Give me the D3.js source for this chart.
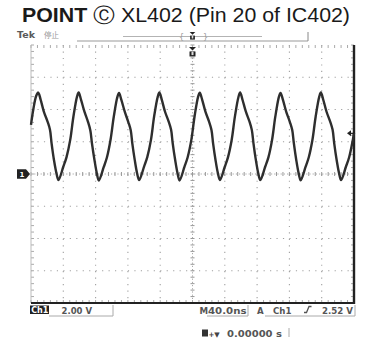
<!DOCTYPE html>
<html>
<head>
<meta charset="utf-8">
<script src="https://cdn.jsdelivr.net/npm/d3@7"></script>
<style>
  html, body { margin: 0; padding: 0; background: #fff; }
  svg { display: block; }
  .scope { font-family: "DejaVu Sans", "Liberation Sans", sans-serif; font-weight: bold; }
</style>
</head>
<body>
<script>
// ---- Display settings (Ch1 at 2.00 V/div, timebase 40.0 ns/div, trigger A Ch1 rising 2.52 V) ----
const timeDivisionsNs = [-200, -160, -120, -80, -40, 0, 40, 80, 120, 160, 200];
const voltDivisions = [-8, -6, -4, -2, 0, 2, 4, 6, 8];
const triggerLevelV = 2.52;

// ---- Captured trace: time (ns, 0 = trigger) and Ch1 voltage (V) ----
const traceTimeNs = [
  -200, -197, -193.5, -191, -188, -184, -179.5, -176.5, -174.5, -171.5, -168.5,
  -166, -160, -156, -151.5, -147.5, -143, -141, -138, -134, -129.5, -126.5, -124.5, -121.5, -118.5,
  -116, -110, -106, -101.5, -97.5, -93, -91, -88, -84, -79.5, -76.5, -74.5, -71.5, -68.5,
  -66, -60, -56, -51.5, -47.5, -43, -41, -38, -34, -29.5, -26.5, -24.5, -21.5, -18.5,
  -16, -10, -6, -1.5, 2.5, 7, 9, 12, 16, 20.5, 23.5, 25.5, 28.5, 31.5,
  34, 40, 44, 48.5, 52.5, 57, 59, 62, 66, 70.5, 73.5, 75.5, 78.5, 81.5,
  84, 90, 94, 98.5, 102.5, 107, 109, 112, 116, 120.5, 123.5, 125.5, 128.5, 131.5,
  134, 140, 144, 148.5, 152.5, 157, 159, 162, 166, 170.5, 173.5, 175.5, 178.5, 181.5,
  184, 190, 194, 198.5, 200
];
const traceVolts = [
  3.05, 4.05, 4.85, 5.05, 4.6, 3.85, 3.25, 2.75, 1.9, 0.85, 0.05,
  -0.38, 0.45, 1.05, 2.1, 3.55, 4.8, 5.05, 4.6, 3.9, 3.25, 2.7, 1.9, 0.9, 0.05,
  -0.4, 0.42, 1.02, 2.12, 3.55, 4.78, 5.02, 4.58, 3.88, 3.22, 2.72, 1.88, 0.86, 0.02,
  -0.38, 0.46, 1.05, 2.1, 3.57, 4.8, 5.05, 4.6, 3.86, 3.25, 2.74, 1.9, 0.88, 0.04,
  -0.4, 0.44, 1.04, 2.1, 3.55, 4.8, 5.04, 4.6, 3.87, 3.25, 2.73, 1.9, 0.87, 0.04,
  -0.37, 0.45, 1.05, 2.11, 3.56, 4.79, 5.05, 4.59, 3.88, 3.26, 2.72, 1.9, 0.86, 0.03,
  -0.38, 0.45, 1.03, 2.1, 3.54, 4.78, 5.03, 4.6, 3.87, 3.24, 2.73, 1.91, 0.87, 0.04,
  -0.39, 0.44, 1.04, 2.11, 3.55, 4.8, 5.05, 4.59, 3.86, 3.25, 2.74, 1.9, 0.87, 0.05,
  -0.38, 0.45, 1.04, 2.1, 2.55
];

const W = 375, H = 340;
const plot = { left: 31, right: 354, top: 45, bottom: 303 };

const svg = d3.select("body").append("svg")
  .attr("width", W).attr("height", H)
  .attr("class", "scope");

const defs = svg.append("defs");
defs.append("filter").attr("id", "soft")
  .append("feGaussianBlur").attr("stdDeviation", 0.45);

const x = d3.scaleLinear().domain([-200, 200]).range([plot.left, plot.right]);
const y = d3.scaleLinear().domain([-8, 8]).range([plot.bottom, plot.top]);

// ---- Title ----
const title = svg.append("text")
  .attr("x", 22).attr("y", 21.5)
  .attr("textLength", 328).attr("lengthAdjust", "spacingAndGlyphs")
  .style("font-family", "'Liberation Sans', Arial, sans-serif")
  .style("font-size", "19.5px").style("font-weight", "normal")
  .attr("fill", "#1a1a1a");
title.append("tspan").style("font-weight", "bold").text("POINT ");
title.append("tspan").text("\u24B8 XL402 (Pin 20 of IC402)");

// ---- Header bar ----
const header = svg.append("g");
header.append("text").attr("x", 17).attr("y", 37.5)
  .style("font-size", "9.5px").attr("fill", "#5a5a5a").text("Tek");
header.append("text").attr("x", 44).attr("y", 37.5)
  .style("font-family", "'Noto Sans CJK JP', sans-serif")
  .style("font-size", "7.5px").style("font-weight", "normal").attr("fill", "#999").text("停止");
header.append("line").attr("x1", 77).attr("x2", 308).attr("y1", 41).attr("y2", 41)
  .attr("stroke", "#999").attr("stroke-width", 1);
header.append("line").attr("x1", 123).attr("x2", 262).attr("y1", 36.5).attr("y2", 36.5)
  .attr("stroke", "#aaa").attr("stroke-width", 0.9);
header.append("line").attr("x1", 308).attr("x2", 308).attr("y1", 32).attr("y2", 41)
  .attr("stroke", "#888").attr("stroke-width", 1);
header.append("text").attr("x", 179).attr("y", 40).style("font-size", "8px")
  .style("font-weight", "normal").attr("fill", "#999").text("{");
header.append("text").attr("x", 203).attr("y", 40).style("font-size", "8px")
  .style("font-weight", "normal").attr("fill", "#999").text("}");

// trigger position glyph (header and top of graticule)
function triggerGlyph(g, cx, top, s) {
  g.append("path")
    .attr("d", `M${cx - 3.5 * s},${top} L${cx + 3.5 * s},${top} L${cx},${top + 3.5 * s} Z`)
    .attr("fill", "#222");
  g.append("path")
    .attr("d", `M${cx - 3 * s},${top + 4.5 * s} h${6 * s} v${5 * s} h${-6 * s} Z`)
    .attr("fill", "#222");
  g.append("rect").attr("x", cx - 1 * s).attr("y", top + 4.5 * s)
    .attr("width", 2 * s).attr("height", 3.6 * s).attr("fill", "#ddd");
}
triggerGlyph(header, x(0), 32, 0.8);

// ---- Graticule ----
const grid = svg.append("g");
const minorT = d3.range(-200, 200.01, 8);
const minorV = d3.range(-8, 8.01, 0.4);

// dotted division lines
grid.selectAll("line.vdiv").data(timeDivisionsNs.filter(t => t !== 0 && t !== -200 && t !== 200))
  .enter().append("line")
  .attr("x1", d => x(d)).attr("x2", d => x(d))
  .attr("y1", plot.top).attr("y2", plot.bottom)
  .attr("stroke", "#a0a0a0").attr("stroke-width", 1.1)
  .attr("stroke-dasharray", "1.2 5.26");
grid.selectAll("line.hdiv").data(voltDivisions.filter(v => v !== 0 && v !== -8 && v !== 8))
  .enter().append("line")
  .attr("x1", plot.left).attr("x2", plot.right)
  .attr("y1", d => y(d)).attr("y2", d => y(d))
  .attr("stroke", "#a0a0a0").attr("stroke-width", 1.1)
  .attr("stroke-dasharray", "1.2 5.26");

// center crosshair with minor ticks
grid.append("line").attr("x1", x(0)).attr("x2", x(0)).attr("y1", plot.top).attr("y2", plot.bottom)
  .attr("stroke", "#aaa").attr("stroke-width", 1).attr("stroke-dasharray", "1.2 2");
grid.append("line").attr("x1", plot.left).attr("x2", plot.right).attr("y1", y(0)).attr("y2", y(0))
  .attr("stroke", "#aaa").attr("stroke-width", 1).attr("stroke-dasharray", "1.2 2");
grid.selectAll("line.ct").data(minorV).enter().append("line")
  .attr("x1", x(0) - 2).attr("x2", x(0) + 2).attr("y1", d => y(d)).attr("y2", d => y(d))
  .attr("stroke", "#999").attr("stroke-width", 1);
grid.selectAll("line.cx").data(minorT).enter().append("line")
  .attr("x1", d => x(d)).attr("x2", d => x(d)).attr("y1", y(0) - 2).attr("y2", y(0) + 2)
  .attr("stroke", "#999").attr("stroke-width", 1);

// edge ticks
grid.selectAll("line.lt").data(minorV).enter().append("line")
  .attr("x1", plot.left).attr("x2", plot.left + 3).attr("y1", d => y(d)).attr("y2", d => y(d))
  .attr("stroke", "#aaa").attr("stroke-width", 1);
grid.selectAll("line.rt").data(minorV).enter().append("line")
  .attr("x1", plot.right - 3).attr("x2", plot.right).attr("y1", d => y(d)).attr("y2", d => y(d))
  .attr("stroke", "#aaa").attr("stroke-width", 1);
grid.selectAll("line.tt").data(minorT).enter().append("line")
  .attr("x1", d => x(d)).attr("x2", d => x(d)).attr("y1", plot.top).attr("y2", plot.top + 3)
  .attr("stroke", "#aaa").attr("stroke-width", 1);
grid.selectAll("line.bt").data(minorT).enter().append("line")
  .attr("x1", d => x(d)).attr("x2", d => x(d)).attr("y1", plot.bottom - 3).attr("y2", plot.bottom)
  .attr("stroke", "#aaa").attr("stroke-width", 1);

// frame: light left/top, heavy right/bottom
grid.append("line").attr("x1", plot.left).attr("x2", plot.left).attr("y1", plot.top).attr("y2", plot.bottom)
  .attr("stroke", "#bbb").attr("stroke-width", 1);
grid.append("line").attr("x1", plot.left).attr("x2", plot.right).attr("y1", plot.bottom).attr("y2", plot.bottom)
  .attr("stroke", "#222").attr("stroke-width", 2);
grid.append("line").attr("x1", plot.right).attr("x2", plot.right).attr("y1", plot.top).attr("y2", plot.bottom + 1)
  .attr("stroke", "#222").attr("stroke-width", 2.4);

// ---- Trace ----
const points = traceTimeNs.map((t, i) => [t, traceVolts[i]]);
const line = d3.line().x(d => x(d[0])).y(d => y(d[1])).curve(d3.curveCatmullRom.alpha(0.5));
svg.append("path").datum(points)
  .attr("d", line)
  .attr("fill", "none").attr("stroke", "#2e2e2e")
  .attr("stroke-width", 2.4).attr("stroke-linejoin", "round")
  .attr("filter", "url(#soft)");

// ---- Markers ----
triggerGlyph(svg.append("g"), x(0), plot.top + 2, 1);

// ground reference for Ch1
const gnd = svg.append("g");
gnd.append("path")
  .attr("d", `M17,${y(0) - 4.8} h9 l4,4.8 l-4,4.8 h-9 Z`).attr("fill", "#222");
gnd.append("text").attr("x", 22).attr("y", y(0) + 3).attr("text-anchor", "middle")
  .style("font-size", "7px").attr("fill", "#fff").text("1");

// trigger level
const tl = svg.append("g");
tl.append("path")
  .attr("d", `M${plot.right - 7},${y(triggerLevelV)} l4,-3 v6 Z`).attr("fill", "#222");
tl.append("line").attr("x1", plot.right - 4).attr("x2", plot.right).attr("y1", y(triggerLevelV)).attr("y2", y(triggerLevelV))
  .attr("stroke", "#222").attr("stroke-width", 1.2);

// ---- Readouts ----
const ro = svg.append("g").style("font-size", "8.6px");
ro.append("rect").attr("x", 30).attr("y", 305.5).attr("width", 19).attr("height", 8.5).attr("fill", "#222");
ro.append("text").attr("x", 31.2).attr("y", 313).attr("fill", "#fff").style("font-size", "8px").text("Ch1");
ro.append("text").attr("x", 61.5).attr("y", 313.5).attr("fill", "#555")
  .attr("textLength", 30.5).attr("lengthAdjust", "spacingAndGlyphs").text("2.00 V");
ro.append("path").attr("d", "M49,316 H113 V305").attr("fill", "none").attr("stroke", "#aaa").attr("stroke-width", 1);

ro.append("text").attr("x", 199.5).attr("y", 313.5).attr("fill", "#555").text("M");
ro.append("text").attr("x", 208).attr("y", 313.5).attr("fill", "#555")
  .attr("textLength", 38.5).attr("lengthAdjust", "spacingAndGlyphs").text("40.0ns");
ro.append("path").attr("d", "M207,316 H248 V305").attr("fill", "none").attr("stroke", "#aaa").attr("stroke-width", 1);
ro.append("text").attr("x", 257).attr("y", 313.5).attr("fill", "#555").text("A");
ro.append("text").attr("x", 273).attr("y", 313.5).attr("fill", "#555").text("Ch1");
ro.append("path").attr("d", "M304,312.5 h2.5 l2.5,-6 h2.5").attr("fill", "none").attr("stroke", "#555").attr("stroke-width", 1.3);
ro.append("text").attr("x", 322).attr("y", 313.5).attr("fill", "#555")
  .attr("textLength", 31).attr("lengthAdjust", "spacingAndGlyphs").text("2.52 V");
ro.append("path").attr("d", "M265,316 H355 V305").attr("fill", "none").attr("stroke", "#aaa").attr("stroke-width", 1);

// horizontal position readout
const hp = svg.append("g").style("font-size", "8.6px");
hp.append("rect").attr("x", 202).attr("y", 329.5).attr("width", 6).attr("height", 7).attr("fill", "#333");
hp.append("text").attr("x", 208.5).attr("y", 336.5).attr("fill", "#444").style("font-size", "7px").text("+\u25BC");
hp.append("text").attr("x", 227).attr("y", 336.5).attr("fill", "#555")
  .attr("textLength", 55).attr("lengthAdjust", "spacingAndGlyphs").text("0.00000 s");
hp.append("line").attr("x1", 289).attr("x2", 289).attr("y1", 328).attr("y2", 337)
  .attr("stroke", "#aaa").attr("stroke-width", 1);
</script>
</body>
</html>
